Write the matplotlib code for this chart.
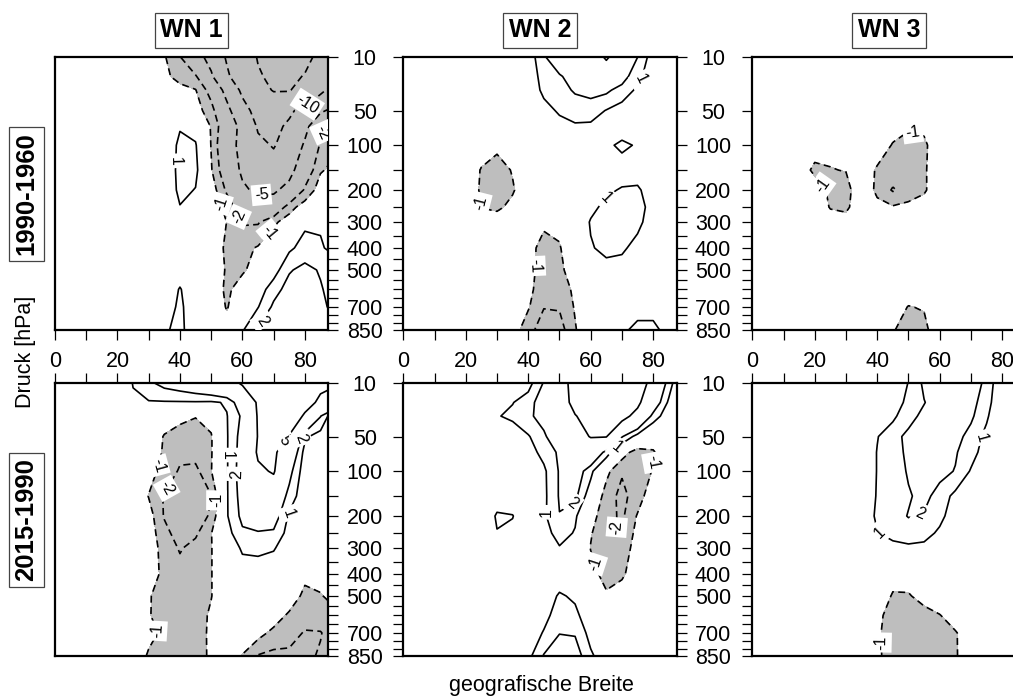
import numpy as np
import matplotlib
matplotlib.use("Agg")
import matplotlib.pyplot as plt
from matplotlib.ticker import FixedLocator, NullFormatter

plt.rcParams["font.family"] = ["Liberation Sans", "DejaVu Sans"]
plt.rcParams["lines.dashed_pattern"] = (4.2, 2.6)

# grid: latitude (deg N) x pressure (hPa)
lats = [0, 5, 10, 15, 20, 25, 30, 35, 40, 45, 50, 55, 60, 65, 70, 75, 80, 85, 90]
pressure = [10, 20, 30, 50, 70, 100, 150, 200, 250, 300, 400, 500, 600, 700, 850]

# wave number 1, difference 1990-1960 (rows = pressure, cols = latitude)
wn1_1990_1960 = [
    [0, 0, 0, 0, 0, 0, 0, -0.9, -1.9, -3.8, -6, -10.5, -15, -20.5, -23, -24, -22, -18, -15],
    [0, 0, 0, 0, 0, 0, 0, -0.8, -1.3, -1.8, -4.5, -9, -14, -19, -22, -22, -19.5, -15, -12],
    [0, 0, 0, 0, 0, 0, 0, -0.3, -0.7, -0.95, -2.5, -6, -11, -17, -20.5, -20.5, -16, -11, -8],
    [0, 0, 0, 0, 0, 0, 0, 0, -0.3, -0.6, -1.5, -4, -8, -12, -13, -11, -8, -5.5, -4],
    [0, 0, 0, 0, 0, 0, 0, 0, 0.9, 0.6, -1.1, -3, -6, -10.5, -11.5, -9, -6, -2.2, -1.6],
    [0, 0, 0, 0, 0, 0, 0, 0, 1.3, 1.1, -1.05, -3.5, -6, -9, -10.3, -8, -4.5, -1.8, -1.2],
    [0, 0, 0, 0, 0, 0, 0, 0, 1.4, 1.3, -0.9, -3, -5.5, -7.5, -8, -6, -3, -1.1, -0.7],
    [0, 0, 0, 0, 0, 0, 0, 0, 1.3, 0.95, -0.4, -2.2, -4.5, -5.6, -5.5, -4, -1.8, -0.5, -0.3],
    [0, 0, 0, 0, 0, 0, 0, 0, 0.95, 0.3, -0.3, -1.3, -2.8, -3.5, -3.3, -1.4, -0.5, -0.2, 0],
    [0, 0, 0, 0, 0, 0, 0, 0, 0, 0, 0, -1.02, -2.1, -2.1, -1.2, -0.5, 0.8, 0.9, 0.6],
    [0, 0, 0, 0, 0, 0, 0, 0, 0, 0, 0, -1.3, -1.3, -0.9, -0.2, 0.8, 1.4, 1.1, 0.7],
    [0, 0, 0, 0, 0, 0, 0, 0, 0.3, 0, 0, -1.15, -1.2, -0.4, 0.5, 1.9, 2.3, 1.9, 1.5],
    [0, 0, 0, 0, 0, 0, 0, 0, 1.1, 0, 0, -1.3, -0.3, 0.4, 1.6, 2.4, 2.5, 2.1, 1.5],
    [0, 0, 0, 0, 0, 0, 0, 0.2, 1.3, 0, 0, -1.1, 0, 0.95, 2.2, 2.4, 2.6, 2.3, 1.6],
    [0, 0, 0, 0, 0, 0, 0, 0.8, 1.4, 0, 0, -0.5, 0.9, 2.2, 2.6, 2.8, 2.9, 2.6, 2.3],
]

# wave number 2, difference 1990-1960
wn2_1990_1960 = [
    [0, 0, 0, 0, 0, 0, 0, 0, 0.3, 1.9, 2.6, 3.0, 3.5, 5.3, 3.5, 2.0, 0.4, 0, 0],
    [0, 0, 0, 0, 0, 0, 0, 0, 0.2, 1.5, 1.9, 2.4, 2.8, 3.0, 2.5, 1.3, 0.3, 0, 0],
    [0, 0, 0, 0, 0, 0, 0, 0, 0.1, 1.3, 1.7, 2.1, 2.3, 2.2, 1.6, 0.8, 0.2, 0, 0],
    [0, 0, 0, 0, 0, 0, 0, 0, 0, 0.5, 1.2, 1.5, 1.5, 0.95, 0.5, 0.2, 0, 0, 0],
    [0, 0, 0, 0, 0, 0, 0, 0, 0, 0.2, 0.5, 0.85, 0.8, 0.6, 0.5, 0.5, 0.2, 0, 0],
    [0, 0, 0, 0, 0, -0.3, -0.7, -0.3, 0, 0, 0, 0.2, 0.2, 0.8, 1.2, 0.9, 0.3, 0, 0],
    [0, 0, 0, 0, 0, -1.1, -1.6, -0.9, 0, 0, 0, 0, 0.1, 0.3, 0.5, 0.4, 0.1, 0, 0],
    [0, 0, 0, 0, 0, -1.2, -1.8, -1.15, 0, 0, 0, 0, 0.3, 0.8, 1.1, 1.2, 0.3, 0, 0],
    [0, 0, 0, 0, 0, -1.05, -1.3, -0.6, 0, 0, 0, 0, 0.7, 1.3, 1.5, 1.4, 0.6, 0, 0],
    [0, 0, 0, 0, 0, -0.2, -0.2, 0, 0, -0.8, -0.7, 0, 1.1, 1.6, 1.7, 1.3, 0.4, 0, 0],
    [0, 0, 0, 0, 0, 0, 0, 0, -0.6, -1.4, -1.1, 0, 0.9, 1.3, 1.2, 0.6, 0, 0, 0],
    [0, 0, 0, 0, 0, 0, 0, 0, -0.6, -1.5, -1.3, -0.3, 0.3, 0.6, 0.5, 0.2, 0, 0, 0],
    [0, 0, 0, 0, 0, 0, 0, 0, -0.7, -1.6, -1.5, -0.8, 0, 0, 0, 0.2, 0.2, 0, 0],
    [0, 0, 0, 0, 0, 0, 0, 0, -0.9, -1.95, -1.9, -0.9, 0, 0, 0.3, 0.6, 0.6, 0.2, 0],
    [0, 0, 0, 0, 0, 0, 0, -0.5, -1.6, -2.6, -2.5, -1.1, 0, 0, 0.8, 1.3, 1.3, 0.6, 0],
]

# wave number 3, difference 1990-1960
wn3_1990_1960 = [
    [0, 0, 0, 0, 0, 0, 0, 0, 0, 0, 0, 0, 0, 0, 0, 0, 0, 0, 0],
    [0, 0, 0, 0, 0, 0, 0, 0, 0, 0, 0, 0, 0, 0, 0, 0, 0, 0, 0],
    [0, 0, 0, 0, 0, 0, 0, 0, 0, 0, 0, 0, 0, 0, 0, 0, 0, 0, 0],
    [0, 0, 0, 0, 0, 0, 0, 0, 0, 0, 0, 0, 0, 0, 0, 0, 0, 0, 0],
    [0, 0, 0, 0, 0, 0, 0, 0, 0, -0.5, -0.9, -0.8, 0, 0, 0, 0, 0, 0, 0],
    [0, 0, 0, 0, -0.6, -0.7, -0.3, 0, -0.2, -1.1, -1.3, -1.2, -0.3, 0, 0, 0, 0, 0, 0],
    [0, 0, 0, -0.5, -1.2, -1.05, -0.95, 0, -1.2, -1.5, -1.5, -1.2, 0, 0, 0, 0, 0, 0, 0],
    [0, 0, 0, 0, -0.5, -1.2, -1.5, 0, -1.3, -2.1, -1.6, -1.2, 0, 0, 0, 0, 0, 0, 0],
    [0, 0, 0, 0, 0, -1.1, -1.3, 0, -0.6, -0.9, -0.7, -0.3, 0, 0, 0, 0, 0, 0, 0],
    [0, 0, 0, 0, 0, -0.3, -0.4, 0, 0, 0, 0, 0, 0, 0, 0, 0, 0, 0, 0],
    [0, 0, 0, 0, 0, 0, 0, 0, 0, 0, 0, 0, 0, 0, 0, 0, 0, 0, 0],
    [0, 0, 0, 0, 0, 0, 0, 0, 0, 0, 0, 0, 0, 0, 0, 0, 0, 0, 0],
    [0, 0, 0, 0, 0, 0, 0, 0, 0, 0, -0.3, -0.2, 0, 0, 0, 0, 0, 0, 0],
    [0, 0, 0, 0, 0, 0, 0, 0, 0, -0.4, -1.05, -0.9, -0.2, 0, 0, 0, 0, 0, 0],
    [0, 0, 0, 0, 0, 0, 0, 0, 0, -0.9, -1.6, -1.4, 0, 0, 0, 0, 0, 0, 0],
]

# wave number 1, difference 2015-1990
wn1_2015_1990 = [
    [0, 0, 0, 0, 0, 1.05, 1.8, 2.3, 2.6, 3.0, 3.5, 4.2, 5.2, 7.0, 9.0, 8.0, 6.5, 5.5, 5.2],
    [0, 0, 0, 0, 0, 0.8, 0.9, 0.9, 0.9, 0.9, 0.85, 1.1, 3.0, 5.3, 7.5, 7.5, 6.0, 4.5, 3.5],
    [0, 0, 0, 0, 0, 0.3, 0.2, -0.3, -0.7, -0.95, -0.6, 0.95, 2.2, 5.2, 7.0, 7.0, 4.6, 2.05, -0.2],
    [0, 0, 0, 0, 0, 0, 0, -1.1, -1.5, -1.6, -1.1, 0.9, 2.5, 5.1, 6.0, 4.8, 1.2, 0.5, 0],
    [0, 0, 0, 0, 0, 0, 0, -1.2, -1.8, -1.6, -1.1, 0.9, 2.6, 5.3, 5.4, 3.5, 0.6, 0.3, 0],
    [0, 0, 0, 0, 0, 0, -0.5, -1.5, -2.1, -2.3, -1.05, 0.9, 2.7, 4.6, 5.2, 2.4, 0.4, 0.2, 0],
    [0, 0, 0, 0, 0, 0, -1.05, -2.1, -2.6, -2.6, -2.05, 0.9, 2.5, 3.5, 3.4, 1.6, 0.3, 0, 0],
    [0, 0, 0, 0, 0, 0, -0.5, -2.1, -2.8, -2.7, -1.8, 0.9, 2.3, 2.8, 2.7, 0.8, 0, 0, 0],
    [0, 0, 0, 0, 0, 0, -0.5, -1.6, -2.6, -2.2, -1.05, 0.6, 1.8, 1.9, 1.8, 0.6, 0, 0, 0],
    [0, 0, 0, 0, 0, 0, -0.4, -1.4, -2.1, -1.6, -1.05, 0, 1.2, 1.3, 1.1, 0.3, 0, 0, 0],
    [0, 0, 0, 0, 0, 0, -0.4, -1.3, -1.6, -1.5, -1.05, 0, 0.3, 0.3, 0.2, 0, -0.7, -0.5, 0],
    [0, 0, 0, 0, 0, 0, -0.9, -1.5, -1.5, -1.4, -1.05, 0, 0, 0, 0, -0.3, -1.3, -1.1, -0.5],
    [0, 0, 0, 0, 0, 0, -0.9, -1.6, -1.6, -1.6, -0.8, 0, 0, 0, -0.4, -1.2, -1.5, -1.5, -1.3],
    [0, 0, 0, 0, 0, 0, -0.6, -1.3, -1.7, -1.7, -0.7, 0, 0, -0.6, -1.3, -1.5, -2.1, -2.05, -1.5],
    [0, 0, 0, 0, 0, 0, -1.2, -1.6, -1.6, -1.5, -0.8, 0, -1.1, -2.1, -2.3, -2.3, -2.2, -1.9, -1.5],
]

# wave number 2, difference 2015-1990
wn2_2015_1990 = [
    [0, 0, 0, 0, 0, 0, 0, 0, 0.6, 2.1, 3.8, 6.0, 7.0, 7.5, 7.5, 6.5, 4.0, 1.5, -0.5],
    [0, 0, 0, 0, 0, 0, 0, 0.95, 1.6, 2.6, 4.0, 5.6, 6.5, 7.0, 6.8, 5.5, 3.0, 0.8, 0],
    [0, 0, 0, 0, 0, 0, 0.9, 1.3, 1.8, 2.4, 3.5, 4.9, 5.8, 6.2, 5.8, 4.2, 1.6, 0.3, 0],
    [0, 0, 0, 0, 0, 0, 0, 0, 0.9, 1.8, 3.0, 4.2, 5.1, 5.1, 2.1, 0.5, -0.5, 0, 0],
    [0, 0, 0, 0, 0, 0, 0, 0, 0.6, 1.3, 2.2, 3.3, 3.5, 1.6, -0.5, -1.5, -1.1, -0.3, 0],
    [0, 0, 0, 0, 0, 0, 0, 0, 0, 0.8, 2.1, 2.8, 1.3, -0.7, -1.9, -1.8, -0.9, 0, 0],
    [0, 0, 0, 0, 0, 0, 0.4, 0.3, 0, 0.75, 2.1, 2.3, 0.3, -1.5, -2.3, -1.5, -0.3, 0, 0],
    [0, 0, 0, 0, 0, 0, 1.15, 1.05, 0, 0.8, 1.97, 1.2, -0.6, -1.6, -2.2, -0.9, 0, 0, 0],
    [0, 0, 0, 0, 0, 0, 0.95, 0.7, 0, 0.5, 1.5, 0.9, -0.9, -1.9, -2.05, -0.6, 0, 0, 0],
    [0, 0, 0, 0, 0, 0, 0, 0, 0, 0, 0.9, 0.5, -1.05, -1.8, -1.6, -0.5, 0, 0, 0],
    [0, 0, 0, 0, 0, 0, 0, 0, 0, 0, 0.3, 0, -0.5, -1.5, -1.2, -0.3, 0, 0, 0],
    [0, 0, 0, 0, 0, 0, 0, 0, 0, 0.3, 1.15, 0.8, 0, -0.8, -0.4, 0, 0, 0, 0],
    [0, 0, 0, 0, 0, 0, 0, 0, 0, 0.6, 1.6, 1.3, 0.2, 0, 0, 0, 0, 0, 0],
    [0, 0, 0, 0, 0, 0, 0, 0, 0.2, 1.1, 1.95, 1.9, 0.6, 0, 0, 0, 0, 0, 0],
    [0, 0, 0, 0, 0, 0, 0, 0, 0.7, 2.1, 2.9, 2.6, 1.2, 0.3, 0, 0, 0, 0, 0],
]

# wave number 3, difference 2015-1990
wn3_2015_1990 = [
    [0, 0, 0, 0, 0, 0, 0, 0, 0, 0, 1.05, 2.2, 3.0, 3.2, 2.9, 1.6, 0.2, 0, 0],
    [0, 0, 0, 0, 0, 0, 0, 0, 0, 0.4, 1.3, 1.95, 2.6, 2.8, 2.4, 1.4, 0.1, 0, 0],
    [0, 0, 0, 0, 0, 0, 0, 0, 0, 0.8, 1.6, 2.3, 2.6, 2.6, 2.2, 1.15, 0, 0, 0],
    [0, 0, 0, 0, 0, 0, 0, 0, 0.95, 1.6, 2.3, 2.6, 2.6, 2.4, 1.6, 0.7, 0, 0, 0],
    [0, 0, 0, 0, 0, 0, 0, 0, 1.05, 1.6, 2.2, 2.5, 2.4, 2.1, 1.4, 0.5, 0, 0, 0],
    [0, 0, 0, 0, 0, 0, 0, 0, 1.05, 1.5, 2.1, 2.4, 2.3, 1.95, 0.9, 0.2, 0, 0, 0],
    [0, 0, 0, 0, 0, 0, 0, 0, 1.1, 1.4, 1.9, 2.3, 1.6, 0.7, 0.2, 0, 0, 0, 0],
    [0, 0, 0, 0, 0, 0, 0, 0.2, 1.2, 1.6, 2.05, 1.9, 1.3, 0.4, 0, 0, 0, 0, 0],
    [0, 0, 0, 0, 0, 0, 0, 0, 0.95, 1.3, 1.5, 1.4, 0.8, 0.2, 0, 0, 0, 0, 0],
    [0, 0, 0, 0, 0, 0, 0, 0, 0.4, 0.7, 0.8, 0.7, 0.3, 0, 0, 0, 0, 0, 0],
    [0, 0, 0, 0, 0, 0, 0, 0, 0, -0.6, -0.5, 0, 0, 0, 0, 0, 0, 0, 0],
    [0, 0, 0, 0, 0, 0, 0, 0, -0.3, -1.1, -1.1, -0.6, -0.2, 0, 0, 0, 0, 0, 0],
    [0, 0, 0, 0, 0, 0, 0, 0, -0.7, -1.5, -1.6, -1.4, -1.05, -0.4, 0, 0, 0, 0, 0],
    [0, 0, 0, 0, 0, 0, 0, 0, -0.8, -1.6, -1.7, -1.6, -1.4, -1.1, -0.3, 0, 0, 0, 0],
    [0, 0, 0, 0, 0, 0, 0, 0, -0.8, -1.5, -1.7, -1.6, -1.5, -1.1, -0.4, 0, 0, 0, 0],
]

wave_titles = ["WN 1", "WN 2", "WN 3"]
period_labels = ["1990-1960", "2015-1990"]
pressure_ticks = [10, 50, 100, 200, 300, 400, 500, 700, 850]
pressure_minor = [150, 250, 350, 450, 550, 600, 650, 750, 800]
lat_ticks = [0, 20, 40, 60, 80]
lat_minor = [10, 30, 50, 70]
neg_levels = [-20, -10, -5, -2, -1]
pos_levels = [1, 2, 5, 10]

fields = [[wn1_1990_1960, wn2_1990_1960, wn3_1990_1960],
          [wn1_2015_1990, wn2_2015_1990, wn3_2015_1990]]

# where the inline contour labels go (lat, hPa)
neg_label_spots = {
    (0, 0): [(53, 240), (58, 285), (66, 200), (80, 40), (84, 75), (68, 330)],
    (0, 1): [(25.5, 235), (40.4, 480)],
    (0, 2): [(23.7, 180), (51, 85)],
    (1, 0): [(35.6, 94), (36.7, 137), (51.6, 160), (34.6, 675)],
    (1, 1): [(78.7, 84), (65, 232), (61.2, 360)],
    (1, 2): [(40.2, 760)],
}
pos_label_spots = {
    (0, 0): [(39, 130), (66.5, 790)],
    (0, 1): [(76, 22), (63.8, 215)],
    (0, 2): [],
    (1, 0): [(55.9, 74), (58, 105), (73.4, 55), (78.2, 52), (75.5, 195)],
    (1, 1): [(46.3, 190), (54, 165), (68, 62)],
    (1, 2): [(40.7, 250), (54, 200), (73.7, 52)],
}

GRAY = "#bebebe"
W, H = 1013, 698
fig = plt.figure(figsize=(W / 100, H / 100), dpi=100)
col_x = [55, 403.3, 752.3]
row_y = [57.3, 383.3]
PW, PH = 273.3, 273.0


def fwd(p):
    return np.abs(p) ** 0.37


def inv(q):
    return np.abs(q) ** (1 / 0.37)


def white_labels(texts):
    for t in texts:
        t.set_bbox(dict(boxstyle="square,pad=0.18", fc="white", ec="none"))


for r in range(2):
    for c in range(3):
        ax = fig.add_axes([col_x[c] / W, 1 - (row_y[r] + PH) / H, PW / W, PH / H])
        z = np.array(fields[r][c], dtype=float)
        ax.set_yscale("function", functions=(fwd, inv))

        ax.contourf(lats, pressure, z, levels=[-100, -1], colors=[GRAY])
        nl = [v for v in neg_levels if z.min() < v < z.max()]
        pl = [v for v in pos_levels if z.min() < v < z.max()]
        if nl:
            cn = ax.contour(lats, pressure, z, levels=nl, colors="black",
                            linewidths=1.2, linestyles="dashed")
            if neg_label_spots[(r, c)]:
                white_labels(ax.clabel(cn, manual=neg_label_spots[(r, c)], inline=True,
                                       inline_spacing=2, fmt="%d", fontsize=11.5))
        if pl:
            cp = ax.contour(lats, pressure, z, levels=pl, colors="black",
                            linewidths=1.2, linestyles="solid")
            if pos_label_spots[(r, c)]:
                white_labels(ax.clabel(cp, manual=pos_label_spots[(r, c)], inline=True,
                                       inline_spacing=2, fmt="%d", fontsize=11.5))

        ax.set_xlim(0, 87.5)
        ax.set_ylim(850, 10)

        ax.xaxis.set_major_locator(FixedLocator(lat_ticks))
        ax.xaxis.set_minor_locator(FixedLocator(lat_minor))
        ax.xaxis.set_minor_formatter(NullFormatter())
        ax.yaxis.set_major_locator(FixedLocator(pressure_ticks))
        ax.yaxis.set_minor_locator(FixedLocator(pressure_minor))
        ax.yaxis.set_minor_formatter(NullFormatter())
        ax.yaxis.set_major_formatter(plt.FuncFormatter(lambda v, pos: "%d" % v))

        ax.tick_params(axis="both", which="both", direction="out", length=7.2,
                       width=0.9, labelsize=15.5, colors="black")
        ax.tick_params(axis="x", which="both", top=(r == 1), bottom=(r == 0),
                       labeltop=(r == 1), labelbottom=False, pad=1.0)
        ax.tick_params(axis="y", which="both", left=(c > 0), right=(c < 2),
                       labelleft=False, labelright=(c < 2), pad=19)
        for lbl in ax.get_yticklabels():
            lbl.set_horizontalalignment("center")
        for sp in ax.spines.values():
            sp.set_linewidth(1.6)

for c, title in enumerate(wave_titles):
    fig.text((col_x[c] + PW / 2) / W, 1 - 30 / H, title, ha="center", va="center",
             fontsize=18, fontweight="bold",
             bbox=dict(boxstyle="square,pad=0.22", fc="white", ec="#444444", lw=0.9))

for r, lab in enumerate(period_labels):
    fig.text(26.5 / W, 1 - (row_y[r] + PH / 2) / H, lab, rotation=90, ha="center",
             va="center", fontsize=18.5, fontweight="bold",
             bbox=dict(boxstyle="square,pad=0.22", fc="white", ec="#444444", lw=0.9))

fig.text(26 / W, 1 - 352 / H, "Druck [hPa]", rotation=90, ha="center", va="center",
         fontsize=15.5)
fig.text(541 / W, 1 - 686 / H, "geografische Breite", ha="center", va="center",
         fontsize=15.5)

fig.savefig("out.png", dpi=100)
